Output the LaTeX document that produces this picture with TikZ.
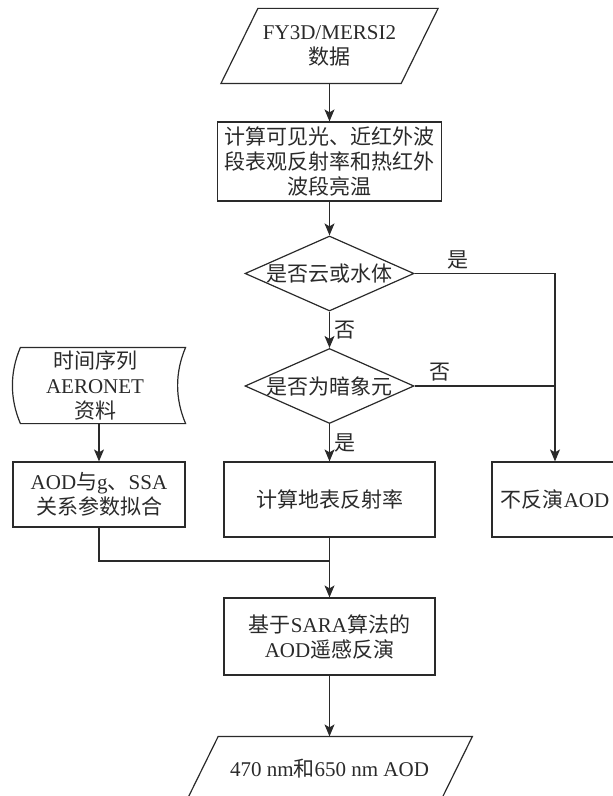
\documentclass[tikz,border=0pt]{standalone}
\usepackage{fontspec}
\setmainfont{Liberation Serif}
\newfontfamily\zh{Noto Sans CJK SC}
\usetikzlibrary{shapes.geometric,arrows.meta}
\definecolor{ink}{HTML}{2A2A2A}
\newcommand{\lat}[1]{{\rmfamily #1}}

\begin{document}
\begin{tikzpicture}[x=0.5pt, y=-0.5pt, draw=ink, line width=0.6pt,
  every node/.style={font=\zh\fontsize{10.5}{12.5}\selectfont, text=ink},
  proc/.style={draw, rectangle, inner sep=0pt, align=center},
  io/.style={rectangle, inner sep=0pt, align=center},
  decision/.style={draw, diamond, inner sep=0pt,
    minimum width=84.5pt, minimum height=37.5pt},
  flow/.style={-{Stealth[length=6pt,width=5pt,inset=1.5pt]}},
  tag/.style={inner sep=2pt}]
  \useasboundingbox (0,0) rectangle (613,796);

  % main column
  \node[io, minimum width=89.5pt, minimum height=37pt] (fy) at (329.5,46)
    {\lat{FY3D/MERSI2}\\数据};
  \node[proc, minimum width=112pt, minimum height=39.5pt] (vis) at (329.5,161.5)
    {计算可见光、近红外波\\段表观反射率和热红外\\波段亮温};
  \node[decision, label=center:是否云或水体] (cloud) at (329.5,273.5) {};
  \node[decision, label=center:是否为暗象元] (dark) at (329.5,386) {};
  \node[proc, minimum width=105.5pt, minimum height=37.5pt] (sfc) at (329.5,499.5)
    {计算地表反射率};
  \node[proc, minimum width=105.5pt, minimum height=38.5pt] (sara) at (329.5,636.5)
    {基于\lat{SARA}算法的\\\lat{AOD}遥感反演};
  \node[io, minimum width=126.5pt, minimum height=31.5pt] (out) at (329.5,768.5)
    {\lat{470 nm}和\lat{650 nm AOD}};

  % side nodes
  \node[proc, minimum width=63pt, minimum height=37.5pt] (skip) at (555,499.5)
    {不反演\lat{AOD}};
  \node[inner sep=0pt, minimum width=82pt, minimum height=37.5pt, align=center]
    (aer) at (95,385.5) {时间序列\\\lat{AERONET}\\资料};
  \node[proc, minimum width=86pt, minimum height=32.5pt] (fit) at (99,494.5)
    {\lat{AOD}与\lat{g}、\lat{SSA}\\关系参数拟合};
  \coordinate (join) at (329.5,561);

  % parallelogram outlines
  \foreach \n/\s in {fy/9.25pt, out/7.9pt}
    \draw ([xshift=\s]\n.north west) -- ([xshift=\s]\n.north east)
      -- ([xshift=-\s]\n.south east) -- ([xshift=-\s]\n.south west) -- cycle;

  % stored data outline
  \draw ([xshift=4pt]aer.north west) -- ([xshift=4pt]aer.north east)
    .. controls ([xshift=-1.33pt,yshift=-12.5pt]aer.north east)
    and ([xshift=-1.33pt,yshift=12.5pt]aer.south east) .. ([xshift=4pt]aer.south east)
    -- ([xshift=4pt]aer.south west)
    .. controls ([xshift=-1.33pt,yshift=12.5pt]aer.south west)
    and ([xshift=-1.33pt,yshift=-12.5pt]aer.north west) .. cycle;

  \draw[flow] (fy) -- (vis);
  \draw[flow] (vis) -- (cloud);
  \draw[flow] (cloud) -- node[tag, right] {否} (dark);
  \draw[flow] (dark) -- node[tag, right] {是} (sfc);
  \draw[flow] (cloud.east) -| node[tag, above, pos=0.155] {是} (skip.north);
  \draw (dark.east) -- node[tag, above, pos=0.18] {否} (dark.east -| skip.north);
  \draw[flow] (aer.south -| fit.north) -- (fit.north);
  \draw (fit.south) |- (join);
  \draw[flow] (sfc) -- (sara);
  \draw[flow] (sara) -- (out);
\end{tikzpicture}
\end{document}
